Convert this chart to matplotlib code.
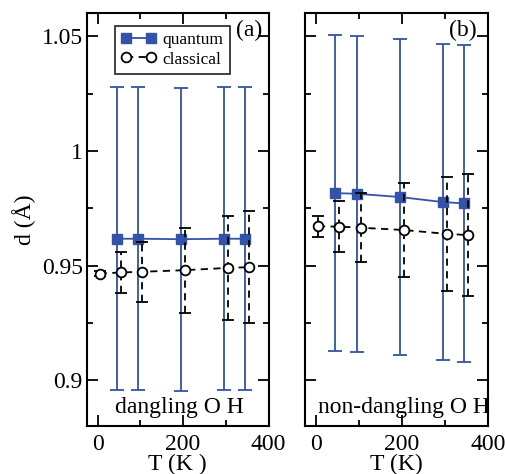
import numpy as np
import matplotlib
matplotlib.use("Agg")
import matplotlib.pyplot as plt
from matplotlib.ticker import MultipleLocator
from matplotlib.lines import Line2D

plt.rcParams['font.family'] = ['Liberation Serif', 'DejaVu Serif']

# quantum (blue squares) and classical (open circles) O-H bond lengths
T_q = [45, 95, 195, 295, 345]
T_c = [5, 55, 105, 205, 305, 355]

# (a) dangling OH
qa = [0.9617, 0.9617, 0.9615, 0.9617, 0.9617]
qa_err = [0.066, 0.066, 0.066, 0.066, 0.066]
ca = [0.9465, 0.9470, 0.9473, 0.9480, 0.9490, 0.9493]
ca_err = [0.001, 0.009, 0.013, 0.0185, 0.0228, 0.0245]

# (b) non-dangling OH
qb = [0.9816, 0.9813, 0.9799, 0.9777, 0.9771]
qb_err = [0.069, 0.069, 0.069, 0.069, 0.069]
cb = [0.9671, 0.9670, 0.9665, 0.9655, 0.9638, 0.9633]
cb_err = [0.0045, 0.011, 0.015, 0.0205, 0.025, 0.0267]

blue = '#3353a8'
dash = (0, (4, 3))

fig = plt.figure(figsize=(5.05, 4.74), dpi=100)
ax1 = fig.add_axes([0.172, 0.101, 0.360, 0.871])
ax2 = fig.add_axes([0.604, 0.101, 0.362, 0.871])

panels = [(ax1, qa, qa_err, ca, ca_err, '(a)', 'dangling O H', 'T (K )'),
          (ax2, qb, qb_err, cb, cb_err, '(b)', 'non-dangling O H', 'T (K)')]

for ax, q, qe, c, ce, lab, txt, xl in panels:
    ax.errorbar(T_q, q, yerr=qe, color=blue, marker='s', ms=6.5, lw=1.3,
                elinewidth=1.3, capsize=5, capthick=1.3, zorder=2)
    eb = ax.errorbar(T_c, c, yerr=ce, color='black', marker='o', ms=7, mfc='white',
                     mec='black', mew=1.3, lw=1.3, ls=dash,
                     elinewidth=1.3, capsize=4, capthick=1.3, zorder=3)
    eb[2][0].set_linestyle(dash)

    ax.set_xlim(-25, 400)
    ax.set_ylim(0.88, 1.06)
    ax.xaxis.set_major_locator(MultipleLocator(200))
    ax.xaxis.set_minor_locator(MultipleLocator(100))
    ax.yaxis.set_major_locator(MultipleLocator(0.05))
    ax.yaxis.set_minor_locator(MultipleLocator(0.025))
    ax.tick_params(which='both', direction='in', top=True, right=True,
                   labelsize=17, width=1.3)
    ax.tick_params(axis='x', pad=6)
    ax.tick_params(axis='y', pad=3)
    ax.tick_params(which='major', length=8)
    ax.tick_params(which='minor', length=4.5)
    for s in ax.spines.values():
        s.set_linewidth(1.5)
    ax.set_xlabel(xl, fontsize=17, labelpad=-1)
    ax.text(0.965 if ax is ax1 else 0.94, 0.985, lab, transform=ax.transAxes,
            ha='right', va='top', fontsize=17)
    ax.text(0.51 if ax is ax1 else 0.54, 0.02, txt, transform=ax.transAxes,
            ha='center', va='bottom', fontsize=17)

ax1.set_yticks([0.9, 0.95, 1.0, 1.05])
ax1.set_yticklabels(['0.9', '0.95', '1', '1.05'])
ax2.set_yticklabels([])
ax1.set_ylabel('d (Å)', fontsize=17, labelpad=4)

handles = [Line2D([], [], color=blue, marker='s', ms=6.5, lw=1.3),
           Line2D([], [], color='black', marker='o', ms=7, mfc='white', mew=1.3,
                  lw=1.3, ls=dash)]
leg = ax1.legend(handles, ['quantum', 'classical'], loc='upper left',
                 bbox_to_anchor=(0.155, 0.97), fontsize=12.5, numpoints=2,
                 frameon=True, fancybox=False, edgecolor='black', handlelength=2.0,
                 handletextpad=0.4, borderpad=0.35, labelspacing=0.2,
                 borderaxespad=0)
leg.get_frame().set_linewidth(1.3)

fig.savefig('out.png', dpi=100)
